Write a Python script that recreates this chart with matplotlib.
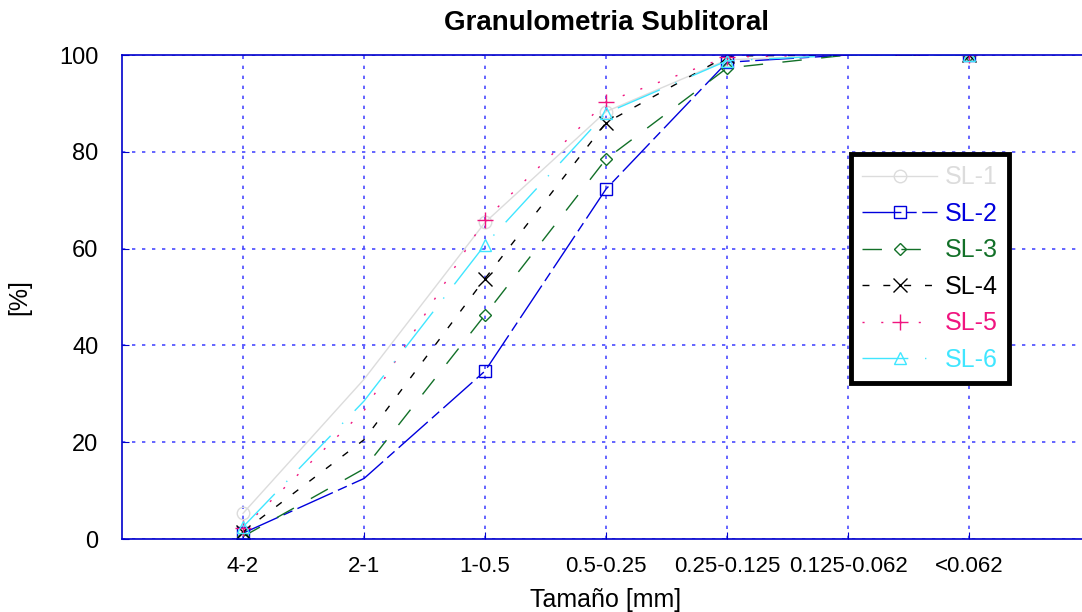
import numpy as np
import matplotlib.pyplot as plt

plt.rcParams['font.family'] = ['Liberation Sans', 'DejaVu Sans']

categories = ['4-2', '2-1', '1-0.5', '0.5-0.25', '0.25-0.125', '0.125-0.062', '<0.062']
sl1 = [5.3, 33.0, 65.4, 88.3, 99.0, 100, 100]
sl2 = [1.2, 12.5, 34.7, 72.3, 98.5, 100, 100]
sl3 = [0.5, 14.5, 46.3, 78.5, 97.3, 100, 100]
sl4 = [1.5, 20.5, 53.8, 86.0, 99.8, 100, 100]
sl5 = [2.3, 26.5, 66.0, 90.3, 99.6, 100, 100]
sl6 = [2.5, 28.5, 60.8, 88.0, 98.8, 100, 100]
names = ['SL-1', 'SL-2', 'SL-3', 'SL-4', 'SL-5', 'SL-6']

# styles per series
colors = ['#dcdcdc', '#0000dd', '#127028', '#000000', '#f0147f', '#40e6ff']
markers = ['o', 's', 'D', 'x', '+', '^']
msizes = [9, 9, 6.5, 10, 11, 9]
dashes = ['-', (0, (28, 4, 7, 4)), (0, (14, 14)), (0, (5, 10)), (0, (1.5, 12)), (0, (33, 12, 1, 12))]
# the original only marks some of the classes
marked = [0, 2, 3, 4, 6]

fig = plt.figure(figsize=(10.82, 6.12), dpi=100)
ax = fig.add_axes([122 / 1082, 73 / 612, 968 / 1082, 484 / 612])

x = np.arange(1, len(categories) + 1)
series = [sl1, sl2, sl3, sl4, sl5, sl6]
for s, name, c, m, ms, ls in zip(series, names, colors, markers, msizes, dashes):
    ax.plot(x, s, color=c, marker=m, markersize=ms, markerfacecolor='none',
            markeredgecolor=c, linestyle=ls, linewidth=1, label=name,
            markevery=marked)

ax.set_xlim(0, 8)
ax.set_ylim(0, 100)
ax.set_xticks(x)
ax.set_xticklabels(categories, fontsize=16)
ax.set_yticks(np.arange(0, 101, 20))
ax.tick_params(axis='y', labelsize=17, pad=17)
ax.tick_params(axis='x', pad=12)
ax.tick_params(direction='in', length=5, color='#0000cc')
ax.grid(True, color='#4a4aff', linestyle=(0, (2, 4)), linewidth=1.2)
for sp in ax.spines.values():
    sp.set_color('#0000cc')
    sp.set_linewidth(1.2)

ax.set_title('Granulometria Sublitoral', fontsize=20, fontweight='bold', pad=18)
ax.set_xlabel('Tamaño [mm]', fontsize=18, labelpad=8)
ax.set_ylabel('[%]', fontsize=18, labelpad=20)

leg = ax.legend(loc='upper left', bbox_to_anchor=(851 / 1082, 1 - 154 / 612),
                bbox_transform=fig.transFigure, fontsize=18, handlelength=3.0,
                handletextpad=0.3, labelspacing=0.5, borderpad=0.45,
                fancybox=False, framealpha=1, borderaxespad=0)
leg.get_frame().set_edgecolor('black')
leg.get_frame().set_linewidth(3.5)
for t, c in zip(leg.get_texts(), colors):
    t.set_color(c)

fig.savefig('out.png', dpi=100)
